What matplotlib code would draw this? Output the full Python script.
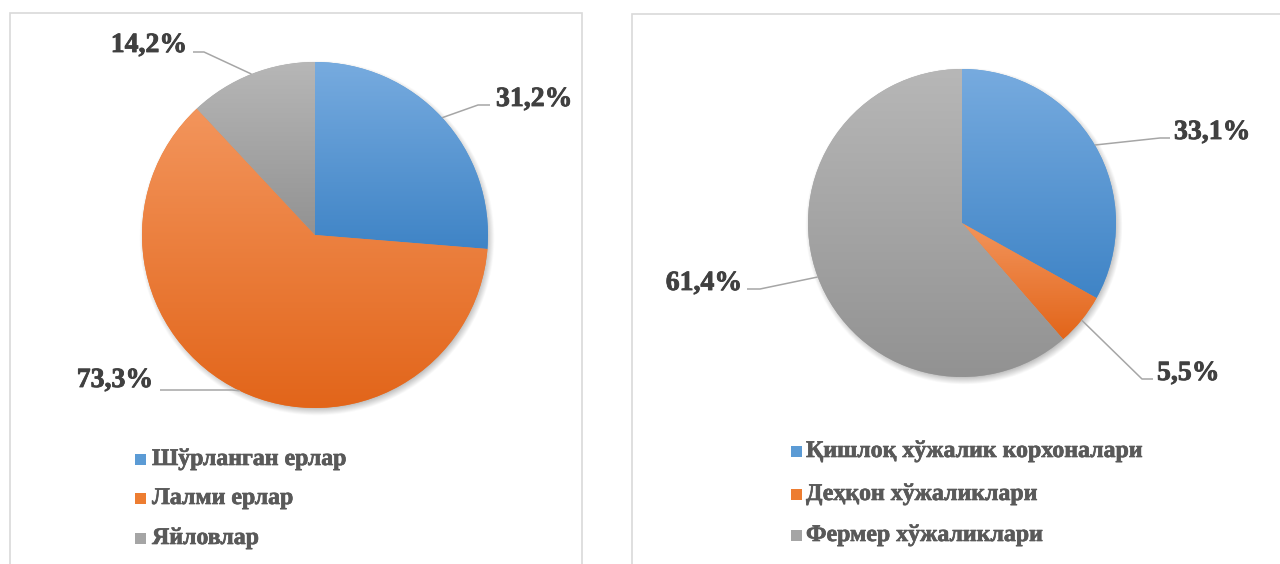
import numpy as np
import matplotlib
matplotlib.use('Agg')
import matplotlib.pyplot as plt
from matplotlib.patches import Rectangle
from matplotlib.colors import LinearSegmentedColormap
import matplotlib.patheffects as pe

W, H = 1280, 564

# ---- data ----
left_categories = ['Шўрланган ерлар', 'Лалми ерлар', 'Яйловлар']
left_values = [31.2, 73.3, 14.2]
right_categories = ['Қишлоқ хўжалик корхоналари', 'Деҳқон хўжаликлари', 'Фермер хўжаликлари']
right_values = [33.1, 5.5, 61.4]

# ---- style ----
base_colors = ['#5B9BD5', '#ED7D31', '#A5A5A5']
grad_top = ['#77abdf', '#f3955c', '#b7b7b7']
grad_bot = ['#3f84c6', '#e2651a', '#929292']
label_color = '#404040'
legend_color = '#595959'
leader_color = '#a6a6a6'
border_color = '#d9d9d9'
serif = ['Liberation Serif', 'DejaVu Serif']

fig = plt.figure(figsize=(W / 100, H / 100), dpi=100)
ax = fig.add_axes([0, 0, 1, 1])


def Y(y):
    return H - y


def draw_shadow(cx, cy, r):
    pad = 20
    xs = np.linspace(cx - r - pad, cx + r + pad, 400)
    ys = np.linspace(cy - r - pad, cy + r + pad, 400)
    X, YY = np.meshgrid(xs, ys)
    d = np.hypot(X - (cx + 2), YY - (cy - 3))
    a = 0.32 * np.clip((r + 5 - d) / 10.0, 0, 1)
    img = np.zeros((400, 400, 4))
    img[..., 3] = a
    ax.imshow(img, extent=(xs[0], xs[-1], ys[0], ys[-1]), origin='lower',
              zorder=1, interpolation='bilinear')


def draw_pie(values, cx, cy, r, layout):
    draw_shadow(cx, Y(cy), r)
    wedges, _ = ax.pie(values, colors=base_colors, startangle=90,
                       counterclock=False, radius=r, center=(cx, Y(cy)),
                       wedgeprops=dict(linewidth=0, zorder=2))
    for i, w in enumerate(wedges):
        ext = w.get_path().get_extents()
        cmap = LinearSegmentedColormap.from_list('g', [grad_top[i], grad_bot[i]])
        grad = np.linspace(0, 1, 256).reshape(-1, 1)
        im = ax.imshow(grad, extent=(ext.x0, ext.x1, ext.y0, ext.y1),
                       origin='upper', cmap=cmap, interpolation='bilinear',
                       zorder=3)
        im.set_clip_path(w)
        # leader line + label
        mid = np.deg2rad((w.theta1 + w.theta2) / 2.0)
        sx = cx + r * np.cos(mid)
        sy = Y(cy) + r * np.sin(mid)
        (ex, ey), (tx, ty), (lx, ly), ha = layout[i]
        ax.plot([sx, ex, tx], [sy, Y(ey), Y(ty)], color=leader_color,
                lw=1.1, zorder=4, solid_capstyle='butt')
        txt = f"{values[i]:.1f}%".replace('.', ',')
        ax.text(lx, Y(ly), txt, ha=ha, va='baseline', fontsize=20,
                fontweight='bold', family=serif, color=label_color, zorder=5,
                path_effects=[pe.withStroke(linewidth=0.6, foreground=label_color)])


def draw_legend(categories, mx, tx, rows, size=11):
    for i, (cat, yc) in enumerate(zip(categories, rows)):
        ax.add_patch(Rectangle((mx, Y(yc + size / 2)), size, size,
                               facecolor=base_colors[i], edgecolor='none',
                               zorder=5))
        ax.text(tx, Y(yc + size / 2 + 0.5), cat, ha='left', va='baseline',
                fontsize=17.2, fontweight='bold', family=serif,
                color=legend_color, zorder=5,
                path_effects=[pe.withStroke(linewidth=0.5, foreground=legend_color)])


# panel borders
ax.add_patch(Rectangle((10, -20), 572, Y(13) + 20, fill=False,
                       edgecolor=border_color, lw=1.2, zorder=0))
ax.add_patch(Rectangle((632, -20), 700, Y(14) + 20, fill=False,
                       edgecolor=border_color, lw=1.2, zorder=0))

# leader/label layout in wedge order: (elbow, line end, text anchor, align)
left_layout = [((478, 105), (490, 105), (496, 106), 'left'),
               ((232, 390), (160, 390), (153, 387), 'right'),
               ((204, 52), (193, 52), (187, 52), 'right')]
right_layout = [((1160, 138), (1170, 138), (1174, 139), 'left'),
                ((1142, 379), (1153, 379), (1157, 380), 'left'),
                ((760, 289), (747, 289), (742, 290), 'right')]

draw_pie(left_values, 315, 235, 173, left_layout)
draw_pie(right_values, 962, 223, 154, right_layout)

draw_legend(left_categories, 135, 152, [459, 498, 538])
draw_legend(right_categories, 791, 806, [451, 494, 535])

ax.set_xlim(0, W)
ax.set_ylim(0, H)
ax.set_aspect('auto')
ax.axis('off')

fig.savefig('out.png', dpi=100, facecolor='white')
